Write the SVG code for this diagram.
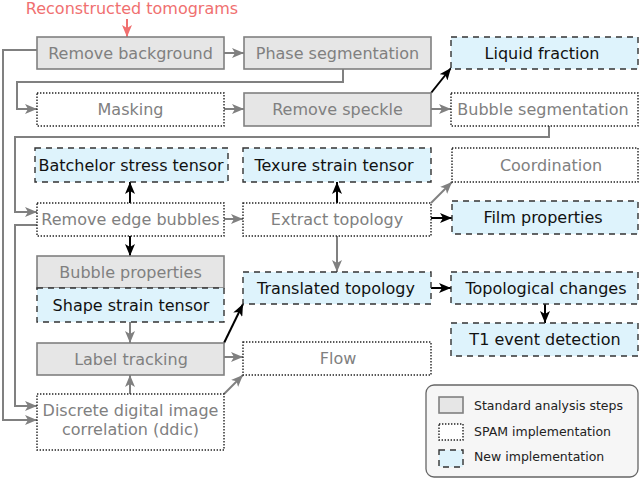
<svg xmlns="http://www.w3.org/2000/svg" width="640" height="478" viewBox="0 0 640 478">
<style>
text{font-family:"DejaVu Sans","Liberation Sans",sans-serif;font-size:16px;text-anchor:middle}
.std rect{fill:#e6e6e6;stroke:#808080;stroke-width:1.6}
.spam rect{fill:#fff;stroke:#222;stroke-width:1.4;stroke-dasharray:1.4,1.6}
.new rect{fill:#def3fc;stroke:#333;stroke-width:1.4;stroke-dasharray:6,5}
.std text,.spam text{fill:#808080}
.new text{fill:#111}
.g{stroke:#808080;stroke-width:2;fill:none;marker-end:url(#ag)}
.k{stroke:#000;stroke-width:2;fill:none;marker-end:url(#ak)}
.leg text{font-size:12.5px;text-anchor:start;fill:#222}
</style>
<defs>
<marker id="ag" markerUnits="userSpaceOnUse" markerWidth="13" markerHeight="10" refX="12" refY="5" orient="auto"><path d="M0,0 L12,5 L0,10 L3,5 z" fill="#808080"/></marker>
<marker id="ak" markerUnits="userSpaceOnUse" markerWidth="13" markerHeight="10" refX="12" refY="5" orient="auto"><path d="M0,0 L12,5 L0,10 L3,5 z" fill="#000"/></marker>
<marker id="ar" markerUnits="userSpaceOnUse" markerWidth="13" markerHeight="10" refX="12" refY="5" orient="auto"><path d="M0,0 L12,5 L0,10 L3,5 z" fill="#f07070"/></marker>
</defs>
<text x="132" y="14" fill="#f07070">Reconstructed tomograms</text>
<g id="connectors">
<path d="M127,19 V37" stroke="#f07070" stroke-width="2" fill="none" marker-end="url(#ar)"/>
<path class="g" d="M224,53 H244"/>
<path class="g" d="M343,69 V82 H17 V109 H37"/>
<path class="g" d="M224,109 H244"/>
<path class="k" d="M431,93 L451,68"/>
<path class="g" d="M431,109 H451"/>
<path class="g" d="M549,126 V137 H15 V212 H37"/>
<path class="g" d="M37,50 H3 V420 H37"/>
<path class="g" d="M37,225 H15 V406 H37"/>
<path class="k" d="M130,203 V182"/>
<path class="k" d="M130,236 V256"/>
<path class="g" d="M224,219 H243"/>
<path class="k" d="M337,203 V182"/>
<path class="g" d="M431,203 L452,182"/>
<path class="k" d="M431,218 H452"/>
<path class="g" d="M337,236 V272"/>
<path class="g" d="M130,322 V343"/>
<path class="g" d="M130,394 V375"/>
<path class="k" d="M224,343 L243,304"/>
<path class="g" d="M224,357 H243"/>
<path class="g" d="M224,394 L243,375"/>
<path class="k" d="M431,288 H451"/>
<path class="k" d="M545,304 V323"/>
</g>
<g id="remove-background" class="std"><rect x="37" y="37" width="187" height="32"/><text x="130.5" y="58.5">Remove background</text></g>
<g id="phase-segmentation" class="std"><rect x="244" y="37" width="187" height="32"/><text x="337.5" y="58.5">Phase segmentation</text></g>
<g id="liquid-fraction" class="new"><rect x="451" y="37" width="187" height="32"/><text x="542" y="58.5">Liquid fraction</text></g>
<g id="masking" class="spam"><rect x="37" y="93" width="187" height="33"/><text x="130.5" y="115">Masking</text></g>
<g id="remove-speckle" class="std"><rect x="244" y="93" width="187" height="33"/><text x="337.5" y="115">Remove speckle</text></g>
<g id="bubble-segmentation" class="spam"><rect x="451" y="93" width="187" height="33"/><text x="543" y="115">Bubble segmentation</text></g>
<g id="batchelor" class="new"><rect x="35" y="148" width="193" height="34"/><text x="131" y="171">Batchelor stress tensor</text></g>
<g id="texture-strain" class="new"><rect x="243" y="148" width="188" height="34"/><text x="334" y="171">Texure strain tensor</text></g>
<g id="coordination" class="spam"><rect x="452" y="148" width="186" height="34"/><text x="551" y="171">Coordination</text></g>
<g id="remove-edge-bubbles" class="spam"><rect x="37" y="203" width="187" height="33"/><text x="130.5" y="225">Remove edge bubbles</text></g>
<g id="extract-topology" class="spam"><rect x="243" y="203" width="188" height="33"/><text x="337" y="225">Extract topology</text></g>
<g id="film-properties" class="new"><rect x="452" y="201" width="186" height="33"/><text x="543" y="223">Film properties</text></g>
<g id="bubble-properties" class="std"><rect x="37" y="256" width="187" height="32"/><text x="130.5" y="277.5">Bubble properties</text></g>
<g id="shape-strain" class="new"><rect x="37" y="288" width="187" height="34"/><text x="131" y="310.5">Shape strain tensor</text></g>
<g id="translated-topology" class="new"><rect x="243" y="272" width="188" height="32"/><text x="336" y="293.5">Translated topology</text></g>
<g id="topological-changes" class="new"><rect x="451" y="272" width="187" height="32"/><text x="546" y="293.5">Topological changes</text></g>
<g id="t1-event" class="new"><rect x="451" y="323" width="187" height="33"/><text x="545" y="345">T1 event detection</text></g>
<g id="label-tracking" class="std"><rect x="37" y="343" width="187" height="32"/><text x="131" y="364.5">Label tracking</text></g>
<g id="flow" class="spam"><rect x="243" y="342" width="188" height="33"/><text x="338" y="364">Flow</text></g>
<g id="ddic" class="spam"><rect x="37" y="394" width="187" height="56"/><text x="130.5" y="415.5">Discrete digital image</text><text x="130.5" y="435">correlation (ddic)</text></g>
<g id="legend" class="leg">
<rect x="426" y="385" width="212" height="92" rx="8" fill="#f6f6f6" stroke="#666" stroke-width="1.3"/>
<g class="std"><rect x="439" y="397" width="24" height="16"/></g>
<text x="474" y="410">Standard analysis steps</text>
<g class="spam"><rect x="439" y="424" width="24" height="16"/></g>
<text x="474" y="436">SPAM implementation</text>
<g class="new"><rect x="439" y="450" width="24" height="17"/></g>
<text x="474" y="461">New implementation</text>
</g>
</svg>
